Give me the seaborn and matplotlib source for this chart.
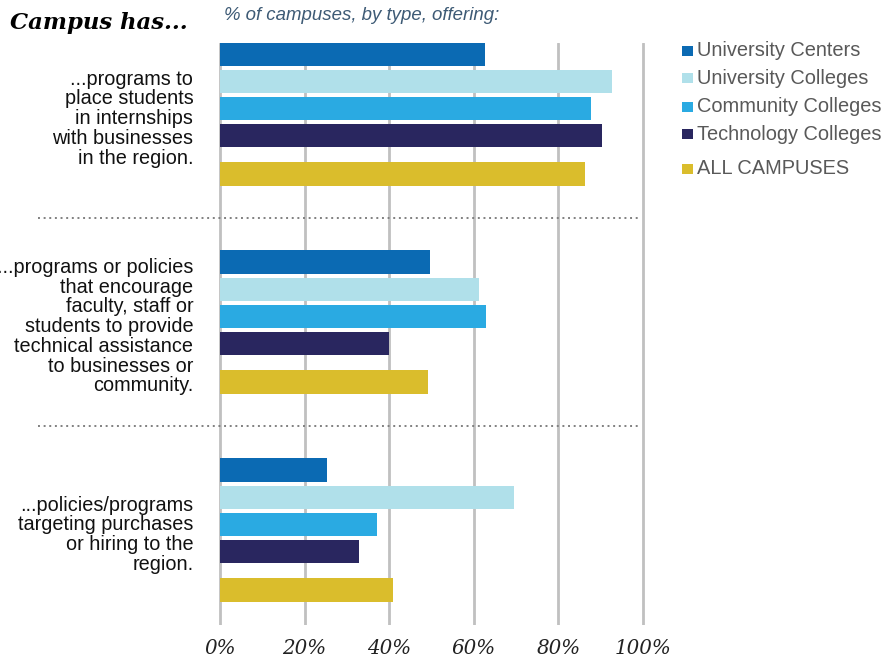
import matplotlib
matplotlib.use("Agg")
import matplotlib.pyplot as plt
from matplotlib.lines import Line2D
from matplotlib.patches import Rectangle
from matplotlib.transforms import blended_transform_factory
import numpy as np
import pandas as pd
import seaborn as sns

# ---- data -------------------------------------------------------------
categories = [
    "...programs to\nplace students\nin internships\nwith businesses\nin the region.",
    "...programs or policies\nthat encourage\nfaculty, staff or\nstudents to provide\ntechnical assistance\nto businesses or\ncommunity.",
    "...policies/programs\ntargeting purchases\nor hiring to the\nregion.",
]
series = ["University Centers", "University Colleges", "Community Colleges",
          "Technology Colleges", "ALL CAMPUSES"]
university_centers = [62.6, 49.6, 25.3]
university_colleges = [92.6, 61.2, 69.4]
community_colleges = [87.8, 62.8, 37.1]
technology_colleges = [90.2, 39.9, 32.8]
all_campuses = [86.4, 49.1, 40.8]
tick_values = [0, 20, 40, 60, 80, 100]
tick_labels = ["0%", "20%", "40%", "60%", "80%", "100%"]

colors = ["#0b6ab3", "#b0e0ea", "#2aaae2", "#29265f", "#dabd2c"]

# ---- layout of bar slots ----------------------------------------------
slot_offset = [0.0, 1.0, 2.0, 3.0, 4.4]   # ALL CAMPUSES sits a little apart
group_pitch = 7.62

values = [university_centers, university_colleges, community_colleges,
          technology_colleges, all_campuses]
rows = []
for si, name in enumerate(series):
    for gi in range(len(categories)):
        rows.append({"series": name,
                     "pct": values[si][gi],
                     "pos": round(gi * group_pitch + slot_offset[si], 4)})
df = pd.DataFrame(rows)

sns.set_theme(style="white")
plt.rcParams["font.family"] = ["Liberation Sans", "DejaVu Sans"]

fig = plt.figure(figsize=(8.81, 6.59), dpi=100)
W, H = 881, 659
ax = fig.add_axes([210 / W, (H - 625) / H, (653 - 210) / W, (625 - 43) / H])

sns.barplot(data=df, x="pct", y="pos", hue="series", hue_order=series,
            palette=colors, orient="h", native_scale=True, dodge=False,
            width=0.85, saturation=1, legend=False, linewidth=0,
            ax=ax, zorder=3)

px_per_pct = (643 - 220) / 100
ax.set_xlim(-10 / px_per_pct, 100 + 10 / px_per_pct)
ax.set_ylim(20.92, -0.403)

# vertical gridlines
ax.set_xticks(tick_values)
ax.set_xticklabels(tick_labels, fontsize=14.3, fontstyle="italic",
                   family=["DejaVu Serif"], color="#222222")
ax.xaxis.grid(True, color="#c0c0c0", linewidth=2.0, zorder=0)
ax.set_axisbelow(True)
ax.tick_params(axis="x", length=0, pad=10)

# category labels
centers = [gi * group_pitch + (slot_offset[0] + slot_offset[-1]) / 2 + 0.17
           for gi in range(len(categories))]
ax.set_yticks(centers)
ax.set_yticklabels(categories, fontsize=14.3, color="#111111",
                   ha="right", va="center", linespacing=1.05)
ax.tick_params(axis="y", length=0, pad=12)

ax.set_xlabel("")
ax.set_ylabel("")
for sp in ax.spines.values():
    sp.set_visible(False)

# dotted separators between groups
sep_tr = blended_transform_factory(fig.transFigure, ax.transData)
for gi in range(len(categories) - 1):
    y = gi * group_pitch + (slot_offset[-1] + group_pitch) / 2
    ax.add_line(Line2D([38 / W, 640 / W], [y, y], transform=sep_tr,
                       color="#808080", linewidth=1.4,
                       linestyle=(0, (1.0, 1.9)), clip_on=False))

# titles
fig.text(10 / W, 1 - 23 / H, "Campus has...", fontsize=16.4,
         fontweight="bold", fontstyle="italic", family=["DejaVu Serif"],
         color="black", ha="left", va="center")
fig.text(224 / W, 1 - 16 / H, "% of campuses, by type, offering:",
         fontsize=13.4, fontstyle="italic", color="#3d5a75",
         ha="left", va="center")

# legend
legend_rows = [51, 78, 107, 134, 169]
for name, col, yrow in zip(series, colors, legend_rows):
    fig.patches.append(Rectangle((682 / W, 1 - (yrow + 5) / H), 11 / W, 10 / H,
                                 transform=fig.transFigure, facecolor=col,
                                 edgecolor="none"))
    fig.text(697 / W, 1 - yrow / H, name, fontsize=14.4, color="#595959",
             ha="left", va="center")

fig.savefig("out.png", dpi=100)
